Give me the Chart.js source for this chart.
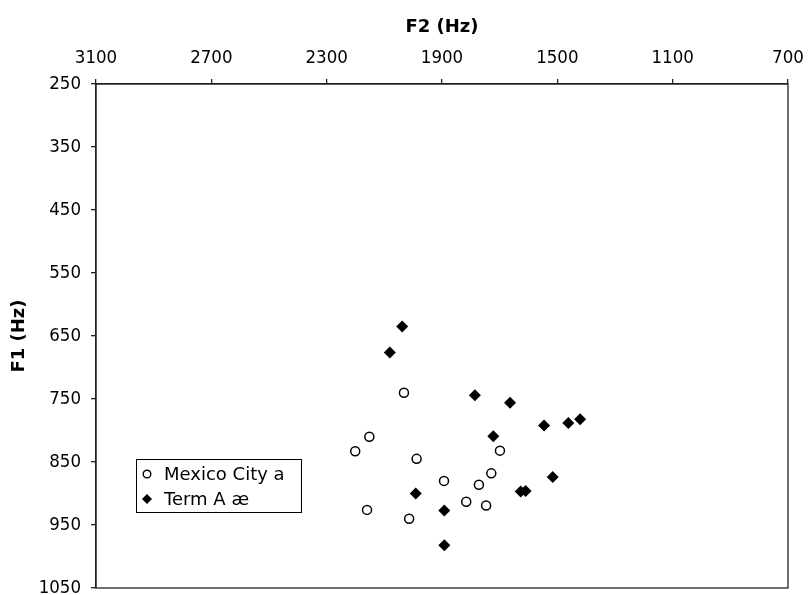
<!DOCTYPE html>
<html><head><meta charset="utf-8">
<script src="https://cdn.jsdelivr.net/npm/chart.js@4.4.1/dist/chart.umd.min.js"></script>
<style>html,body{margin:0;padding:0;background:#fff}</style>
</head><body>
<canvas id="c" width="809" height="595"></canvas>
<script>
// Series names
const seriesNames = ['Mexico City a', 'Term A æ'];
// Mexico City a (open circles): F2 / F1 in Hz
const mexicoF2 = [2032, 2152, 2201, 1988, 1699, 1729, 1893, 1772, 1816, 1747, 2160, 2014];
const mexicoF1 = [740, 810, 833, 845, 832, 868, 880, 886, 913, 919, 926, 940];
// Term A æ (filled diamonds): F2 / F1 in Hz
const termF2 = [2038, 2081, 1786, 1664, 1546, 1462, 1421, 1722, 1516, 1627, 1610, 1991, 1892, 1892];
const termF1 = [635, 676, 744, 756, 792, 788, 782, 809, 874, 897, 896, 900, 927, 982];
// Axis ranges / ticks
const f2Range = [700, 3100];
const f2Step = 400;
const f1Range = [250, 1050];
const f1Step = 100;
const xTitle = 'F2 (Hz)';
const yTitle = 'F1 (Hz)';

const toPoints = (xs, ys) => xs.map((x, i) => ({x: x, y: ys[i]}));
const FONT = "'DejaVu Sans', Verdana, sans-serif";
const TICKFONT = "'DejaVu Sans Condensed', 'DejaVu Sans', Verdana, sans-serif";

const plotFrame = {
  id: 'plotFrame',
  beforeDatasetsDraw(chart) {
    const a = chart.chartArea, ctx = chart.ctx;
    ctx.save();
    ctx.strokeStyle = '#222';
    ctx.lineWidth = 1.3;
    ctx.strokeRect(a.left, a.top, a.right - a.left, a.bottom - a.top);
    ctx.restore();
  }
};

const legendBox = {
  id: 'legendBox',
  afterDraw(chart) {
    const ctx = chart.ctx;
    ctx.save();
    const bx = 136.5, by = 459.5, bw = 165, bh = 53;
    ctx.fillStyle = '#fff';
    ctx.fillRect(bx, by, bw, bh);
    ctx.strokeStyle = '#000';
    ctx.lineWidth = 1;
    ctx.strokeRect(bx, by, bw, bh);
    const rows = [474, 499];
    const mx = 147;
    // circle marker
    ctx.beginPath();
    ctx.arc(mx, rows[0], 3.8, 0, Math.PI * 2);
    ctx.fillStyle = '#fff';
    ctx.fill();
    ctx.lineWidth = 1.4;
    ctx.stroke();
    // diamond marker
    ctx.beginPath();
    ctx.moveTo(mx, rows[1] - 5);
    ctx.lineTo(mx + 5, rows[1]);
    ctx.lineTo(mx, rows[1] + 5);
    ctx.lineTo(mx - 5, rows[1]);
    ctx.closePath();
    ctx.fillStyle = '#000';
    ctx.fill();
    ctx.font = '18px ' + FONT;
    ctx.textBaseline = 'middle';
    ctx.textAlign = 'left';
    ctx.fillStyle = '#000';
    ctx.fillText(chart.data.datasets[0].label, 164, rows[0] + 1);
    ctx.fillText(chart.data.datasets[1].label, 164, rows[1] + 1);
    ctx.restore();
  }
};

new Chart(document.getElementById('c'), {
  type: 'scatter',
  data: {
    datasets: [
      {
        label: seriesNames[0],
        data: toPoints(mexicoF2, mexicoF1),
        pointStyle: 'circle',
        pointRadius: 4.5,
        pointHoverRadius: 4.5,
        pointBackgroundColor: '#fff',
        pointBorderColor: '#000',
        pointBorderWidth: 1.5
      },
      {
        label: seriesNames[1],
        data: toPoints(termF2, termF1),
        pointStyle: 'rectRot',
        pointRadius: 6,
        pointHoverRadius: 6,
        pointBackgroundColor: '#000',
        pointBorderColor: '#000',
        pointBorderWidth: 0
      }
    ]
  },
  options: {
    responsive: false,
    animation: false,
    devicePixelRatio: 1,
    layout: {padding: {left: 0, top: 0, right: 21, bottom: 7}},
    plugins: {legend: {display: false}, tooltip: {enabled: false}},
    scales: {
      x: {
        type: 'linear',
        position: 'top',
        reverse: true,
        min: f2Range[0],
        max: f2Range[1],
        ticks: {stepSize: f2Step, color: '#000', font: {family: TICKFONT, size: 18.5}, padding: 10, maxRotation: 0, autoSkip: false,
                callback: v => String(v)},
        grid: {drawOnChartArea: false, drawTicks: true, tickLength: 5, color: '#222', lineWidth: 1.3},
        border: {display: true, color: '#222', width: 1.3},
        title: {display: true, text: xTitle, color: '#000', font: {family: FONT, size: 18, weight: 'bold'}, padding: {top: 17, bottom: 0}},
        afterFit(s) { s.height = 84; s.paddingLeft = 0; s.paddingRight = 0; }
      },
      y: {
        type: 'linear',
        position: 'left',
        reverse: true,
        min: f1Range[0],
        max: f1Range[1],
        ticks: {stepSize: f1Step, color: '#000', font: {family: TICKFONT, size: 18.5}, padding: 10, autoSkip: false,
                callback: v => String(v)},
        grid: {drawOnChartArea: false, drawTicks: true, tickLength: 5, color: '#222', lineWidth: 1.3},
        border: {display: true, color: '#222', width: 1.3},
        title: {display: true, text: yTitle, color: '#000', font: {family: FONT, size: 18, weight: 'bold'}, padding: {top: 9, bottom: 0}},
        afterFit(s) { s.width = 96; s.paddingTop = 0; s.paddingBottom = 0; }
      }
    }
  },
  plugins: [plotFrame, legendBox]
});
</script>
</body></html>
